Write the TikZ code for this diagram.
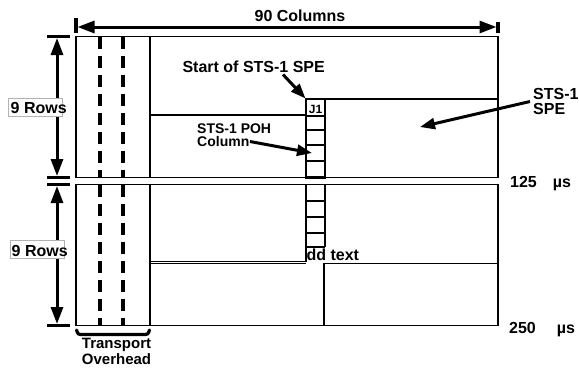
\documentclass[tikz,border=0pt]{standalone}
\usepackage{fontspec}
\setmainfont{Liberation Sans}
\usetikzlibrary{arrows.meta}

\begin{document}
\begin{tikzpicture}[x=1pt, y=-1pt,
	lbl/.style={font=\fontsize{16}{16}\selectfont\bfseries, inner sep=0pt},
	smlbl/.style={font=\fontsize{14}{14}\selectfont\bfseries, inner sep=0pt},
	framel/.style={line width=1.9pt},
	ohdash/.style={line width=3.2pt, dash pattern=on 12pt off 7pt},
	dimline/.style={line width=3pt, {Triangle[length=17pt,width=12pt]}-{Triangle[length=17pt,width=12pt]}},
	tickl/.style={line width=3.4pt},
	pointer/.style={line width=3pt, -{Triangle[length=15pt,width=11pt]}},
	cell/.style={line width=2.8pt},
	rowbox/.style={draw=gray!60, fill=white, line width=1pt, minimum width=54pt, minimum height=18pt, inner sep=0pt},
	ohbrace/.style={line width=3.2pt, line cap=round}]
	\useasboundingbox (0,0) rectangle (579,368);
	\draw[tickl] (76,18) -- (76,33);
	\draw[tickl] (498,22) -- (498,33);
	\coordinate (colL) at (77.5,27);
	\coordinate (colR) at (496.5,27);
	\draw[dimline] (colL) -- (colR);
	\node[lbl, anchor=base] (cols) at (300,21) {90 Columns};
	\foreach \yt/\yb in {36.5/177.5, 184.5/325.5} {
		\draw[tickl] (47,\yt) -- (70,\yt);
		\draw[tickl] (47,\yb) -- (70,\yb);
		\draw[dimline] (57,\yt+1.5) -- (57,\yb-1.5);
		\draw[framel] (76,\yt) rectangle (498,\yb);
		\foreach \x in {100,123}
			\draw[ohdash] (\x,\yt) -- (\x,\yb);
		\draw[line width=2.3pt] (150,\yt) -- (150,\yb);
	}
	\node[rowbox] (boxA) at (35.5,107.5) {};
	\node[lbl, anchor=base west] (rowsA) at (10.5,113.5) {9 Rows};
	\node[rowbox] (boxB) at (37,249) {};
	\node[lbl, anchor=base west] (rowsB) at (11.5,256) {9 Rows};
	\draw[framel] (150,115) -- (306,115) -- (306,177.5);
	\draw[framel] (325,99) -- (498,99);
	\draw[cell] (306,99) rectangle (325,177.5);
	\foreach \y in {116,130,145,161}
		\draw[cell] (306,\y) -- (325,\y);
	\node[font=\fontsize{12}{12}\selectfont\bfseries, inner sep=0pt, anchor=base] (jone) at (315.5,113) {J1};
	\node[lbl, anchor=base] (addtxt) at (327,260) {Add text};
	\draw[framel, fill=white] (150,184.5) rectangle (306,261.5);
	\draw[framel] (150,263.5) -- (306,263.5);
	\draw[framel] (324,263.5) rectangle (498,325.5);
	\draw[cell] (306,184.5) -- (306,247) (325,184.5) -- (325,247);
	\foreach \y in {201,217,233,247}
		\draw[cell] (306,\y) -- (325,\y);
	\node[lbl, anchor=base] (startlbl) at (253.7,72) {Start of STS-1 SPE};
	\coordinate (startTail) at (283,74.5);
	\coordinate (startTip) at (305.5,98.5);
	\draw[pointer] (startTail) -- (startTip);
	\node[smlbl, anchor=base west] (pohA) at (197,133.5) {STS-1 POH};
	\node[smlbl, anchor=base west] (pohB) at (197,146.5) {Column};
	\coordinate (pohTail) at (250,141.5);
	\coordinate (pohTip) at (312,153);
	\draw[pointer] (pohTail) -- (pohTip);
	\node[lbl, anchor=base west] (speA) at (533,99) {STS-1};
	\node[lbl, anchor=base west] (speB) at (533,114) {SPE};
	\coordinate (speTail) at (530,101.5);
	\coordinate (speTip) at (420,127);
	\draw[pointer] (speTail) -- (speTip);
	\node[lbl, anchor=base west] (tOne) at (510,187) {125\quad µs};
	\node[lbl, anchor=base west] (tTwo) at (509,333) {250\hspace{21pt}µs};
	\draw[ohbrace] (76.5,330) .. controls (78,334.5) .. (84,334.5) -- (142,334.5) .. controls (148,334.5) .. (149.5,330);
	\node[lbl, font=\fontsize{15}{15}\selectfont\bfseries, anchor=base] (trA) at (116.5,348.5) {Transport};
	\node[lbl, font=\fontsize{15}{15}\selectfont\bfseries, anchor=base] (trB) at (116.5,364.5) {Overhead};
\end{tikzpicture}
\end{document}
